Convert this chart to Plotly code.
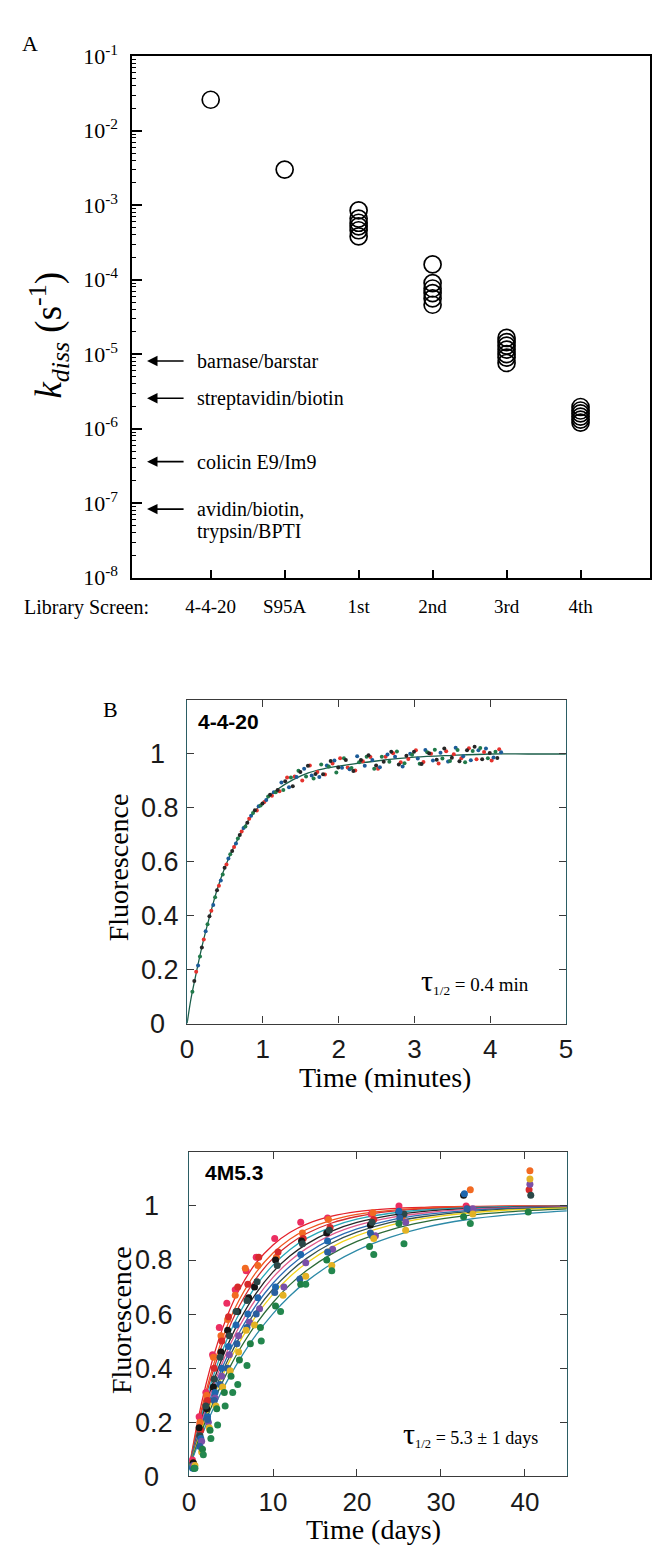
import numpy as np
import plotly.graph_objects as go

W, H = 660, 1555
SERIF = "Liberation Serif, Times New Roman, serif"
SANS = "Liberation Sans, Arial, sans-serif"

# ---------------- Panel A data ----------------
screens = ["4-4-20", "S95A", "1st", "2nd", "3rd", "4th"]
kdiss_4420 = [2.6e-2]
kdiss_s95a = [3.0e-3]
kdiss_1st = [8.5e-4, 6.6e-4, 5.8e-4, 5.2e-4, 4.6e-4, 3.8e-4]
kdiss_2nd = [1.6e-4, 9.0e-5, 7.6e-5, 6.6e-5, 5.6e-5, 4.6e-5]
kdiss_3rd = [1.65e-5, 1.45e-5, 1.3e-5, 1.15e-5, 1.0e-5, 9.0e-6, 7.6e-6]
kdiss_4th = [1.95e-6, 1.75e-6, 1.6e-6, 1.45e-6, 1.32e-6, 1.2e-6]
ref_names = ["barnase/barstar", "streptavidin/biotin", "colicin E9/Im9", "avidin/biotin,", "trypsin/BPTI"]
ref_kdiss = [8.1e-6, 2.56e-6, 3.6e-7, 8.3e-8]
decades = [1e-8, 1e-7, 1e-6, 1e-5, 1e-4, 1e-3, 1e-2, 1e-1]
decade_labels = ["10<sup>-8</sup>", "10<sup>-7</sup>", "10<sup>-6</sup>", "10<sup>-5</sup>",
                 "10<sup>-4</sup>", "10<sup>-3</sup>", "10<sup>-2</sup>", "10<sup>-1</sup>"]

# ---------------- Panel B data (4-4-20, minutes) ----------------
t_b_red = [0.12,0.22,0.32,0.42,0.52,0.62,0.72,0.82,0.92,1.02,1.12,1.22,1.32,1.42,1.52,1.62,1.72,1.82,1.92,2.02,
           2.12,2.22,2.32,2.42,2.52,2.62,2.72,2.82,2.92,3.02,3.12,3.22,3.32,3.42,3.52,3.62,3.72,3.82,3.92,4.02,4.12]
f_b_red = [0.192,0.312,0.418,0.511,0.590,0.655,0.712,0.760,0.790,0.822,0.845,0.862,0.913,0.916,0.902,0.957,0.933,
           0.924,0.965,0.984,0.950,0.939,0.973,0.989,0.945,0.990,1.003,0.969,0.981,1.014,0.970,1.001,0.965,1.010,
           0.999,0.984,1.021,0.980,1.007,0.976,1.018]
t_b_blue = [0.145,0.245,0.345,0.445,0.545,0.645,0.745,0.845,0.945,1.045,1.145,1.245,1.345,1.445,1.545,1.645,1.745,
            1.845,1.945,2.045,2.145,2.245,2.345,2.445,2.545,2.645,2.745,2.845,2.945,3.045,3.145,3.245,3.345,3.445,
            3.545,3.645,3.745,3.845,3.945,4.045,4.145]
f_b_blue = [0.215,0.342,0.440,0.531,0.612,0.668,0.725,0.771,0.806,0.829,0.858,0.894,0.877,0.915,0.945,0.920,0.915,
            0.957,0.976,0.949,0.943,0.992,0.956,0.978,0.951,0.998,0.990,0.954,1.001,0.983,1.015,0.976,1.005,0.972,
            1.023,0.992,0.977,1.014,1.020,0.987,1.006]
t_b_green = [0.07,0.17,0.27,0.37,0.47,0.57,0.67,0.77,0.87,0.97,1.07,1.17,1.27,1.37,1.47,1.57,1.67,1.77,1.87,1.97,
             2.07,2.17,2.27,2.37,2.47,2.57,2.67,2.77,2.87,2.97,3.07,3.17,3.27,3.37,3.47,3.57,3.67,3.77,3.87,3.97,4.07]
f_b_green = [0.118,0.249,0.368,0.468,0.553,0.628,0.686,0.731,0.781,0.809,0.842,0.858,0.866,0.913,0.938,0.916,0.909,
             0.961,0.954,0.931,0.984,0.948,0.969,0.990,0.945,0.990,0.971,1.009,0.966,0.997,0.964,1.006,1.016,0.983,
             0.974,1.015,0.969,1.011,1.022,0.984,1.008]
t_b_black = [0.095,0.195,0.295,0.395,0.495,0.595,0.695,0.795,0.895,0.995,1.095,1.195,1.295,1.395,1.495,1.595,1.695,
             1.795,1.895,1.995,2.095,2.195,2.295,2.395,2.495,2.595,2.695,2.795,2.895,2.995,3.095,3.195,3.295,3.395,
             3.495,3.595,3.695,3.795,3.895,3.995,4.095]
f_b_black = [0.158,0.282,0.398,0.494,0.578,0.640,0.699,0.745,0.791,0.816,0.849,0.866,0.899,0.880,0.933,0.956,0.926,
             0.925,0.974,0.950,0.978,0.937,0.978,0.995,0.957,0.971,1.008,0.961,0.993,1.008,0.963,1.003,0.979,1.020,
             0.986,0.973,1.014,1.027,0.980,1.004,0.985]
t_b_fit = [0, 0.05, 0.1, 0.2, 0.3, 0.4, 0.5, 0.6, 0.7, 0.8, 0.9, 1.0, 1.2, 1.4, 1.6, 1.8, 2.0, 2.5, 3.0, 3.5, 4.0, 4.5, 5.0]
f_b_fit = [0, 0.09, 0.16, 0.29, 0.40, 0.50, 0.58, 0.645, 0.70, 0.75, 0.79, 0.82, 0.87, 0.905, 0.93, 0.945, 0.955,
           0.974, 0.988, 0.995, 1.0, 1.0, 1.0]
b_ticks = [0, 1, 2, 3, 4, 5]

# ---------------- Panel C data (4M5.3, days) ----------------
t_c_fit = [0, 1, 2, 3, 4, 5, 6, 8, 10, 12, 14, 17, 20, 24, 28, 33, 38, 45]
fit_c1 = [0.03, 0.199, 0.338, 0.453, 0.548, 0.627, 0.692, 0.790, 0.856, 0.902, 0.933, 0.962, 0.979, 0.990, 0.995, 0.998, 0.999, 1.0]
fit_c2 = [0.03, 0.183, 0.312, 0.421, 0.512, 0.590, 0.654, 0.755, 0.826, 0.877, 0.913, 0.948, 0.969, 0.984, 0.992, 0.997, 0.999, 1.0]
fit_c3 = [0.03, 0.174, 0.297, 0.402, 0.491, 0.566, 0.631, 0.732, 0.806, 0.859, 0.898, 0.937, 0.961, 0.980, 0.989, 0.995, 0.998, 0.999]
fit_c4 = [0.03, 0.164, 0.280, 0.380, 0.466, 0.540, 0.603, 0.706, 0.781, 0.838, 0.880, 0.923, 0.951, 0.973, 0.985, 0.993, 0.997, 0.999]
fit_c5 = [0.03, 0.155, 0.264, 0.359, 0.441, 0.513, 0.576, 0.678, 0.756, 0.815, 0.859, 0.907, 0.939, 0.965, 0.980, 0.990, 0.995, 0.998]
fit_c6 = [0.03, 0.148, 0.252, 0.343, 0.423, 0.494, 0.555, 0.657, 0.736, 0.796, 0.843, 0.894, 0.928, 0.957, 0.974, 0.987, 0.993, 0.997]
fit_c7 = [0.03, 0.141, 0.240, 0.327, 0.405, 0.473, 0.533, 0.634, 0.714, 0.776, 0.824, 0.878, 0.915, 0.948, 0.968, 0.983, 0.991, 0.996]
fit_c8 = [0.03, 0.135, 0.229, 0.313, 0.388, 0.454, 0.513, 0.613, 0.693, 0.756, 0.806, 0.863, 0.903, 0.939, 0.961, 0.978, 0.988, 0.995]
fit_c9 = [0.03, 0.130, 0.220, 0.301, 0.373, 0.438, 0.496, 0.594, 0.674, 0.738, 0.789, 0.848, 0.890, 0.929, 0.954, 0.973, 0.985, 0.993]
fit_c10 = [0.03, 0.122, 0.206, 0.281, 0.350, 0.412, 0.468, 0.564, 0.643, 0.708, 0.761, 0.823, 0.869, 0.912, 0.941, 0.964, 0.978, 0.989]
fit_c11 = [0.03, 0.113, 0.188, 0.257, 0.321, 0.378, 0.431, 0.524, 0.602, 0.667, 0.721, 0.786, 0.836, 0.885, 0.920, 0.949, 0.967, 0.982]

t_c1 = [0.4, 1.2, 2.0, 2.8, 3.6, 4.5, 5.5, 6.8, 8.0, 10.2, 13.3, 16.5, 21.7, 25.0, 33.0]
f_c1 = [0.06, 0.22, 0.31, 0.45, 0.55, 0.64, 0.69, 0.76, 0.81, 0.88, 0.94, 0.955, 0.97, 1.0, 1.0]
t_c2 = [0.5, 1.3, 2.1, 2.9, 3.8, 4.6, 5.5, 6.7, 8.2, 10.4, 13.5, 16.6, 21.9, 25.4, 33.5, 40.6]
f_c2 = [0.05, 0.20, 0.30, 0.44, 0.52, 0.58, 0.67, 0.77, 0.78, 0.81, 0.90, 0.95, 0.975, 0.96, 1.06, 1.13]
t_c3 = [0.6, 1.4, 2.2, 3.0, 3.9, 4.7, 5.8, 7.0, 8.3, 10.6, 13.6, 16.8, 22.0, 25.2, 33.2, 40.5]
f_c3 = [0.04, 0.17, 0.28, 0.40, 0.50, 0.59, 0.70, 0.71, 0.81, 0.83, 0.88, 0.92, 0.95, 0.965, 0.99, 1.06]
t_c4 = [0.5, 1.2, 2.1, 2.9, 3.8, 4.6, 5.8, 7.1, 7.8, 10.3, 13.4, 16.4, 21.6, 25.0, 32.7]
f_c4 = [0.05, 0.18, 0.25, 0.33, 0.46, 0.54, 0.61, 0.66, 0.70, 0.80, 0.87, 0.90, 0.93, 0.975, 1.04]
t_c5 = [0.6, 1.3, 2.0, 3.0, 3.7, 4.8, 5.6, 6.9, 8.1, 10.5, 13.5, 16.7, 21.8, 25.6, 33.4, 40.7]
f_c5 = [0.04, 0.15, 0.26, 0.36, 0.44, 0.52, 0.61, 0.65, 0.72, 0.78, 0.86, 0.91, 0.94, 0.97, 0.985, 1.04]
t_c6 = [0.4, 1.4, 2.2, 3.1, 3.9, 4.7, 5.6, 7.0, 8.2, 10.3, 13.3, 16.5, 21.8, 25.0, 32.8]
f_c6 = [0.03, 0.14, 0.22, 0.31, 0.40, 0.48, 0.56, 0.60, 0.66, 0.70, 0.82, 0.87, 0.89, 0.98, 1.045]
t_c7 = [0.5, 1.5, 2.3, 3.1, 3.9, 4.8, 5.9, 7.2, 8.4, 11.3, 13.9, 17.1, 22.2, 25.8, 33.8, 40.6]
f_c7 = [0.04, 0.13, 0.20, 0.29, 0.37, 0.45, 0.52, 0.57, 0.62, 0.70, 0.79, 0.84, 0.89, 0.94, 0.99, 1.08]
t_c8 = [0.6, 1.3, 2.2, 3.0, 3.7, 4.6, 5.7, 6.9, 8.0, 10.2, 13.2, 16.5, 21.6, 25.1, 33.1]
f_c8 = [0.03, 0.11, 0.21, 0.28, 0.34, 0.40, 0.49, 0.55, 0.60, 0.68, 0.73, 0.83, 0.90, 0.955, 0.99]
t_c9 = [0.7, 1.5, 2.4, 3.2, 4.0, 4.9, 5.9, 6.8, 7.8, 11.2, 13.9, 17.0, 22.0, 25.8, 33.8, 40.6]
f_c9 = [0.04, 0.09, 0.18, 0.26, 0.33, 0.39, 0.46, 0.54, 0.56, 0.67, 0.74, 0.78, 0.88, 0.91, 0.97, 1.10]
t_c10 = [0.6, 1.6, 2.5, 3.3, 4.2, 5.0, 6.0, 7.3, 8.5, 10.3, 13.3, 16.4, 21.5, 25.0, 32.7, 40.4]
f_c10 = [0.03, 0.10, 0.17, 0.25, 0.31, 0.37, 0.43, 0.49, 0.55, 0.63, 0.71, 0.80, 0.85, 0.935, 0.96, 0.978]
t_c11 = [0.7, 1.7, 2.6, 3.4, 4.3, 5.2, 5.8, 6.9, 8.6, 10.9, 13.9, 17.0, 22.0, 25.6, 33.5]
f_c11 = [0.03, 0.08, 0.14, 0.19, 0.26, 0.31, 0.34, 0.41, 0.50, 0.61, 0.71, 0.76, 0.82, 0.86, 0.935]
c_ticks = [0, 10, 20, 30, 40]
fl_ticks = [0, 0.2, 0.4, 0.6, 0.8, 1]
fl_labels = ["0\u2002", "0.2", "0.4", "0.6", "0.8", "1\u2002"]

c_curve_colors = ["#e3222b", "#f0561f", "#d42b2e", "#27a6b6", "#262626", "#e0588c",
                  "#2b6cb3", "#34504f", "#f1d21c", "#2c6b37", "#2d8aa7"]
c_point_colors = ["#ec2e62", "#f26a22", "#d62a2a", "#151515", "#2b4848", "#1e66ad",
                  "#7a50a8", "#2a5f9e", "#e3b224", "#1f7f45", "#23874e"]

fig = go.Figure()

# ---- Panel A ----
groups = [kdiss_4420, kdiss_s95a, kdiss_1st, kdiss_2nd, kdiss_3rd, kdiss_4th]
for i, g in enumerate(groups):
    fig.add_trace(go.Scatter(x=[i + 1] * len(g), y=g, mode="markers", xaxis="x", yaxis="y",
                             marker=dict(symbol="circle-open", size=17, color="black",
                                         line=dict(width=1.7, color="black")),
                             hoverinfo="skip"))

# ---- Panel B ----
fig.add_trace(go.Scatter(x=t_b_fit, y=f_b_fit, mode="lines", xaxis="x2", yaxis="y2",
                         line=dict(color="#1b5e4a", width=1.3, shape="spline"), hoverinfo="skip"))
for tt, ff, col in [(t_b_red, f_b_red, "#e5322d"), (t_b_blue, f_b_blue, "#1c5c99"),
                    (t_b_green, f_b_green, "#217a4a"), (t_b_black, f_b_black, "#262626")]:
    fig.add_trace(go.Scatter(x=tt, y=ff, mode="markers", xaxis="x2", yaxis="y2",
                             marker=dict(size=4, color=col), hoverinfo="skip"))

# ---- Panel C ----
fits = [fit_c1, fit_c2, fit_c3, fit_c4, fit_c5, fit_c6, fit_c7, fit_c8, fit_c9, fit_c10, fit_c11]
pts_t = [t_c1, t_c2, t_c3, t_c4, t_c5, t_c6, t_c7, t_c8, t_c9, t_c10, t_c11]
pts_f = [f_c1, f_c2, f_c3, f_c4, f_c5, f_c6, f_c7, f_c8, f_c9, f_c10, f_c11]
for fv, col in zip(fits, c_curve_colors):
    fig.add_trace(go.Scatter(x=t_c_fit, y=fv, mode="lines", xaxis="x3", yaxis="y3",
                             line=dict(color=col, width=1.3, shape="spline"), hoverinfo="skip"))
for tt, ff, col in zip(pts_t, pts_f, c_point_colors):
    fig.add_trace(go.Scatter(x=tt, y=ff, mode="markers", xaxis="x3", yaxis="y3",
                             marker=dict(size=7, color=col), hoverinfo="skip"))


def px(x):
    return x / W


def py(y):
    return 1 - y / H


axis_common = dict(showgrid=False, zeroline=False, showline=True, ticks="inside")

layout = dict(
    width=W, height=H, autosize=False, margin=dict(l=0, r=0, t=0, b=0),
    paper_bgcolor="white", plot_bgcolor="white", showlegend=False,
    xaxis=dict(axis_common, domain=[px(128), px(657)], anchor="y", range=[-0.06, 6.94],
               tickmode="array", tickvals=[1, 2, 3, 4, 5, 6], ticktext=screens, ticklen=8,
               linecolor="black", linewidth=1.8, tickcolor="black", tickwidth=1.5, mirror=True,
               tickfont=dict(family=SERIF, size=19, color="black"), ticklabelstandoff=11),
    yaxis=dict(axis_common, domain=[py(573), py(41)], anchor="x", type="log", range=[-8, -1],
               tickmode="array", tickvals=decades, ticktext=decade_labels, ticklen=10,
               linecolor="black", linewidth=1.8, tickcolor="black", tickwidth=1.5, mirror=True,
               minor=dict(ticks="inside", ticklen=4, tickcolor="black", tickwidth=1, dtick="D1", showgrid=False),
               tickfont=dict(family=SERIF, size=22, color="black"), ticklabelstandoff=8),
    xaxis2=dict(axis_common, domain=[px(184), px(571)], anchor="y2", range=[0, 5],
                tickmode="array", tickvals=b_ticks, ticktext=[str(v) for v in b_ticks], ticklen=7,
                linecolor="#3a3a3a", linewidth=1.3, tickcolor="#3a3a3a", mirror="ticks",
                tickfont=dict(family=SANS, size=26, color="#1a1a1a"), ticklabelstandoff=2),
    yaxis2=dict(axis_common, domain=[py(1028), py(698)], anchor="x2", range=[0, 1.2],
                tickmode="array", tickvals=fl_ticks, ticktext=fl_labels, ticklen=7,
                linecolor="#2b5d64", linewidth=1.3, tickcolor="#3a3a3a", mirror="ticks",
                tickfont=dict(family=SANS, size=27, color="#1a1a1a"), ticklabelstandoff=2),
    xaxis3=dict(axis_common, domain=[px(186), px(572)], anchor="y3", range=[0, 45],
                tickmode="array", tickvals=c_ticks, ticktext=[str(v) for v in c_ticks], ticklen=7,
                linecolor="#3a3a3a", linewidth=1.3, tickcolor="#3a3a3a", mirror="ticks",
                tickfont=dict(family=SANS, size=26, color="#1a1a1a"), ticklabelstandoff=2),
    yaxis3=dict(axis_common, domain=[py(1490), py(1159)], anchor="x3", range=[0, 1.2],
                tickmode="array", tickvals=fl_ticks, ticktext=fl_labels, ticklen=7,
                linecolor="#2b5d64", linewidth=1.3, tickcolor="#3a3a3a", mirror="ticks",
                tickfont=dict(family=SANS, size=27, color="#1a1a1a"), ticklabelstandoff=10),
)
fig.update_layout(**layout)

ann = []


def text_ann(x, y, text, size, family=SERIF, xanchor="center", yanchor="middle", angle=0, color="black"):
    ann.append(dict(x=px(x), y=py(y), xref="paper", yref="paper", text=text, showarrow=False,
                    xanchor=xanchor, yanchor=yanchor, textangle=angle,
                    font=dict(family=family, size=size, color=color)))


# Panel A labels
text_ann(24, 28, "A", 22)
text_ann(15, 604, "Library Screen:", 20, xanchor="left")
text_ann(42, 326, "<i>k</i><sub><i>diss</i></sub> (s<sup>-1</sup>)", 37, angle=-90)
# reference complexes: arrows at their kdiss on the log axis
for val in ref_kdiss:
    ann.append(dict(x=0.14, y=float(np.log10(val)), xref="x", yref="y", text="", showarrow=True,
                    ax=38, ay=0, axref="pixel", ayref="pixel", arrowhead=2, arrowsize=1.3,
                    arrowwidth=1.6, arrowcolor="black"))
for name, val, shift in zip(ref_names, ref_kdiss + [ref_kdiss[-1]], [0, 0, 0, 0, -22]):
    ann.append(dict(x=0.79, y=float(np.log10(val)), xref="x", yref="y", text=name, showarrow=False,
                    xanchor="left", yanchor="middle", yshift=shift,
                    font=dict(family=SERIF, size=20, color="black")))

# Panel B labels
text_ann(106, 708, "B", 22)
text_ann(193, 720, "<b>4-4-20</b>", 21, family=SANS, xanchor="left")
text_ann(421, 985, "<span style='font-size:30px'>τ</span><sub>1/2</sub> = 0.4 min", 19, xanchor="left")
text_ann(114, 869, "Fluorescence", 28, angle=-90)
text_ann(386, 1083, "Time (minutes)", 28)

# Panel C labels
text_ann(200, 1180, "<b>4M5.3</b>", 21, family=SANS, xanchor="left")
text_ann(403, 1447, "<span style='font-size:30px'>τ</span><sub>1/2</sub> = 5.3 ± 1 days", 18, xanchor="left")
text_ann(117, 1331, "Fluorescence", 28, angle=-90)
text_ann(374, 1544, "Time (days)", 28)

fig.update_layout(annotations=ann)

fig.write_html("out.html", config={"displayModeBar": False},
               post_script="document.body.style.margin='0px';document.body.style.overflow='hidden';")
